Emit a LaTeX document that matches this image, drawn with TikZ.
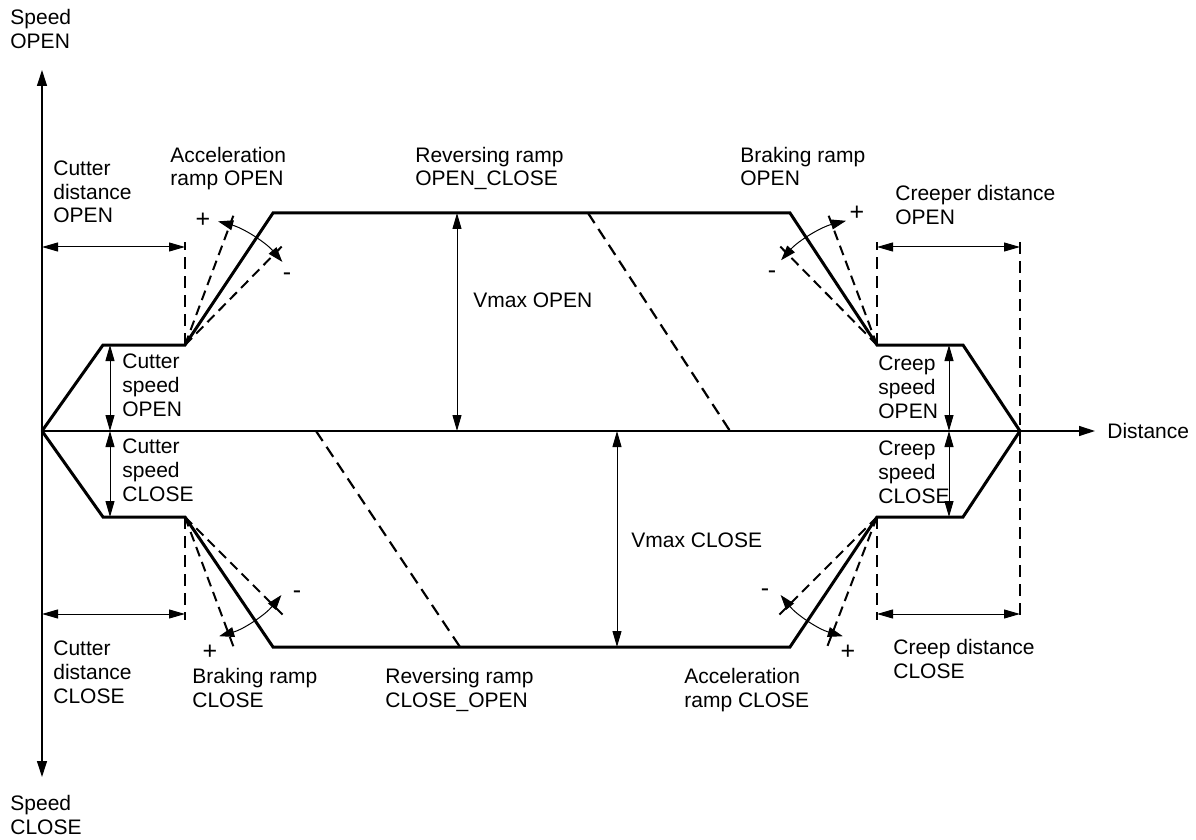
\documentclass[tikz,border=0pt]{standalone}
\usepackage{fontspec}
\setmainfont{Liberation Sans}
\usetikzlibrary{arrows.meta,calc}
\begin{document}
\begin{tikzpicture}[x=0.5pt,y=-0.5pt,
  lbl/.style={anchor=base west, align=left, inner sep=0pt, font=\fontsize{10.5pt}{12pt}\selectfont},
  sgn/.style={inner sep=0pt, font=\fontsize{12.5pt}{14pt}\selectfont},
  prof/.style={line width=1.5pt, line join=miter},
  axis/.style={line width=0.6pt, -{Triangle[length=8pt,width=5pt]}},
  dim/.style={line width=0.5pt, {Triangle[length=8pt,width=4.5pt]}-{Triangle[length=8pt,width=4.5pt]}},
  dsh/.style={line width=1.1pt, dash pattern=on 6pt off 3.5pt},
  rampdash/.style={line width=1pt, dash pattern=on 5pt off 3pt},
  ramparc/.style={line width=0.5pt, {Triangle[length=7.5pt,width=5pt]}-{Triangle[length=7.5pt,width=5pt]}}
]
\useasboundingbox (0,0) rectangle (1196,840);

% key points
\coordinate (O) at (42,431);
\coordinate (YT) at (42,70);
\coordinate (YB) at (42,777);
\coordinate (XE) at (1095,431);
\coordinate (U1) at (103,345);
\coordinate (U2) at (185,345);
\coordinate (U3) at (273,213);
\coordinate (U4) at (790,213);
\coordinate (U5) at (877,345);
\coordinate (U6) at (963,345);
\coordinate (E) at (1020,431);
\coordinate (L1) at (103,517);
\coordinate (L2) at (185,517);
\coordinate (L3) at (273,647);
\coordinate (L4) at (790,647);
\coordinate (L5) at (877,517);
\coordinate (L6) at (963,517);

% axes
\draw[axis] (O) -- (YT);
\draw[axis] (O) -- (YB);
\draw[axis] (O) -- (XE);

% profiles
\draw[prof] (O) -- (U1) -- (U2) -- (U3) -- (U4) -- (U5) -- (U6) -- (E);
\draw[prof] (O) -- (L1) -- (L2) -- (L3) -- (L4) -- (L5) -- (L6) -- (E);

% reversing ramps
\coordinate (RU1) at (588,213);
\coordinate (RU2) at (730,431);
\coordinate (RL1) at (316,431);
\coordinate (RL2) at (460,647);
\draw[dsh] (RU1) -- (RU2);
\draw[dsh] (RL1) -- (RL2);

% distance markers (dashed verticals)
\coordinate (dU2) at (185,242);
\coordinate (dU5) at (877,242);
\coordinate (dE1) at (1020,242);
\coordinate (dE2) at (1020,620);
\coordinate (dL2) at (185,620);
\coordinate (dL5) at (877,620);
\draw[dsh] (U2) -- (dU2);
\draw[dsh] (U5) -- (dU5);
\draw[dsh] (dE1) -- (dE2);
\draw[dsh] (L2) -- (dL2);
\draw[dsh] (L5) -- (dL5);

% horizontal dimension arrows
\coordinate (cdoA) at (42,247);
\coordinate (cdoB) at (185,247);
\coordinate (crdoA) at (877,247);
\coordinate (crdoB) at (1020,247);
\coordinate (cdcA) at (42,614);
\coordinate (cdcB) at (185,614);
\coordinate (crdcA) at (877,614);
\coordinate (crdcB) at (1020,614);
\draw[dim] (cdoA) -- (cdoB);
\draw[dim] (crdoA) -- (crdoB);
\draw[dim] (cdcA) -- (cdcB);
\draw[dim] (crdcA) -- (crdcB);

% vertical dimension arrows
\coordinate (csA) at (110,345);
\coordinate (csB) at (110,431);
\coordinate (csC) at (110,517);
\coordinate (crA) at (949,345);
\coordinate (crB) at (949,431);
\coordinate (crC) at (949,517);
\coordinate (vo1) at (457,213);
\coordinate (vo2) at (457,431);
\coordinate (vc1) at (617,431);
\coordinate (vc2) at (617,647);
\draw[dim] (csA) -- (csB);
\draw[dim] (csB) -- (csC);
\draw[dim] (crA) -- (crB);
\draw[dim] (crB) -- (crC);
\draw[dim] (vo1) -- (vo2);
\draw[dim] (vc1) -- (vc2);

% ramp fans
\draw[rampdash] (U2) -- ++(69.5:71pt);
\draw[rampdash] (U2) -- ++(45.5:71pt);
\draw[ramparc] ([shift={(75:64pt)}]U2) arc[start angle=75, end angle=40.5, radius=64pt];

\draw[rampdash] (U5) -- ++(110.5:71pt);
\draw[rampdash] (U5) -- ++(134.5:71pt);
\draw[ramparc] ([shift={(104:64pt)}]U5) arc[start angle=104, end angle=138.5, radius=64pt];

\draw[rampdash] (L2) -- ++(-69.5:71pt);
\draw[rampdash] (L2) -- ++(-45:71pt);
\draw[ramparc] ([shift={(-74:62pt)}]L2) arc[start angle=-74, end angle=-39, radius=62pt];

\draw[rampdash] (L5) -- ++(-111:71pt);
\draw[rampdash] (L5) -- ++(-135:71pt);
\draw[ramparc] ([shift={(-106:62pt)}]L5) arc[start angle=-106, end angle=-141, radius=62pt];

% signs
\node[sgn] (p1) at (203,220) {+};
\node[sgn] (m1) at (287,277) {-};
\node[sgn] (p2) at (857,213) {+};
\node[sgn] (m2) at (772,275) {-};
\node[sgn] (p3) at (210,652) {+};
\node[sgn] (m3) at (297,595) {-};
\node[sgn] (p4) at (848,652) {+};
\node[sgn] (m4) at (765,593) {-};

% labels (anchor = baseline of last line)
\node[lbl] (sO) at (10,49) {Speed\\OPEN};
\node[lbl] (sC) at (10,834) {Speed\\CLOSE};
\node[lbl] (dist) at (1107,438) {Distance};
\node[lbl] (cdo) at (53,223) {Cutter\\distance\\OPEN};
\node[lbl] (aro) at (170,186) {Acceleration\\ramp OPEN};
\node[lbl] (rroc) at (415,186) {Reversing ramp\\OPEN\_CLOSE};
\node[lbl] (bro) at (740,186) {Braking ramp\\OPEN};
\node[lbl] (crdo) at (895,225) {Creeper distance\\OPEN};
\node[lbl] (vmo) at (473,307) {Vmax OPEN};
\node[lbl] (cso) at (122,416) {Cutter\\speed\\OPEN};
\node[lbl] (cro) at (878,418) {Creep\\speed\\OPEN};
\node[lbl] (csc) at (122,501) {Cutter\\speed\\CLOSE};
\node[lbl] (crc) at (878,503) {Creep\\speed\\CLOSE};
\node[lbl] (vmc) at (631,547) {Vmax CLOSE};
\node[lbl] (cdc) at (53,703) {Cutter\\distance\\CLOSE};
\node[lbl] (brc) at (192,707) {Braking ramp\\CLOSE};
\node[lbl] (rrco) at (385,707) {Reversing ramp\\CLOSE\_OPEN};
\node[lbl] (arc) at (684,707) {Acceleration\\ramp CLOSE};
\node[lbl] (crdc) at (893,678) {Creep distance\\CLOSE};
\end{tikzpicture}
\end{document}
